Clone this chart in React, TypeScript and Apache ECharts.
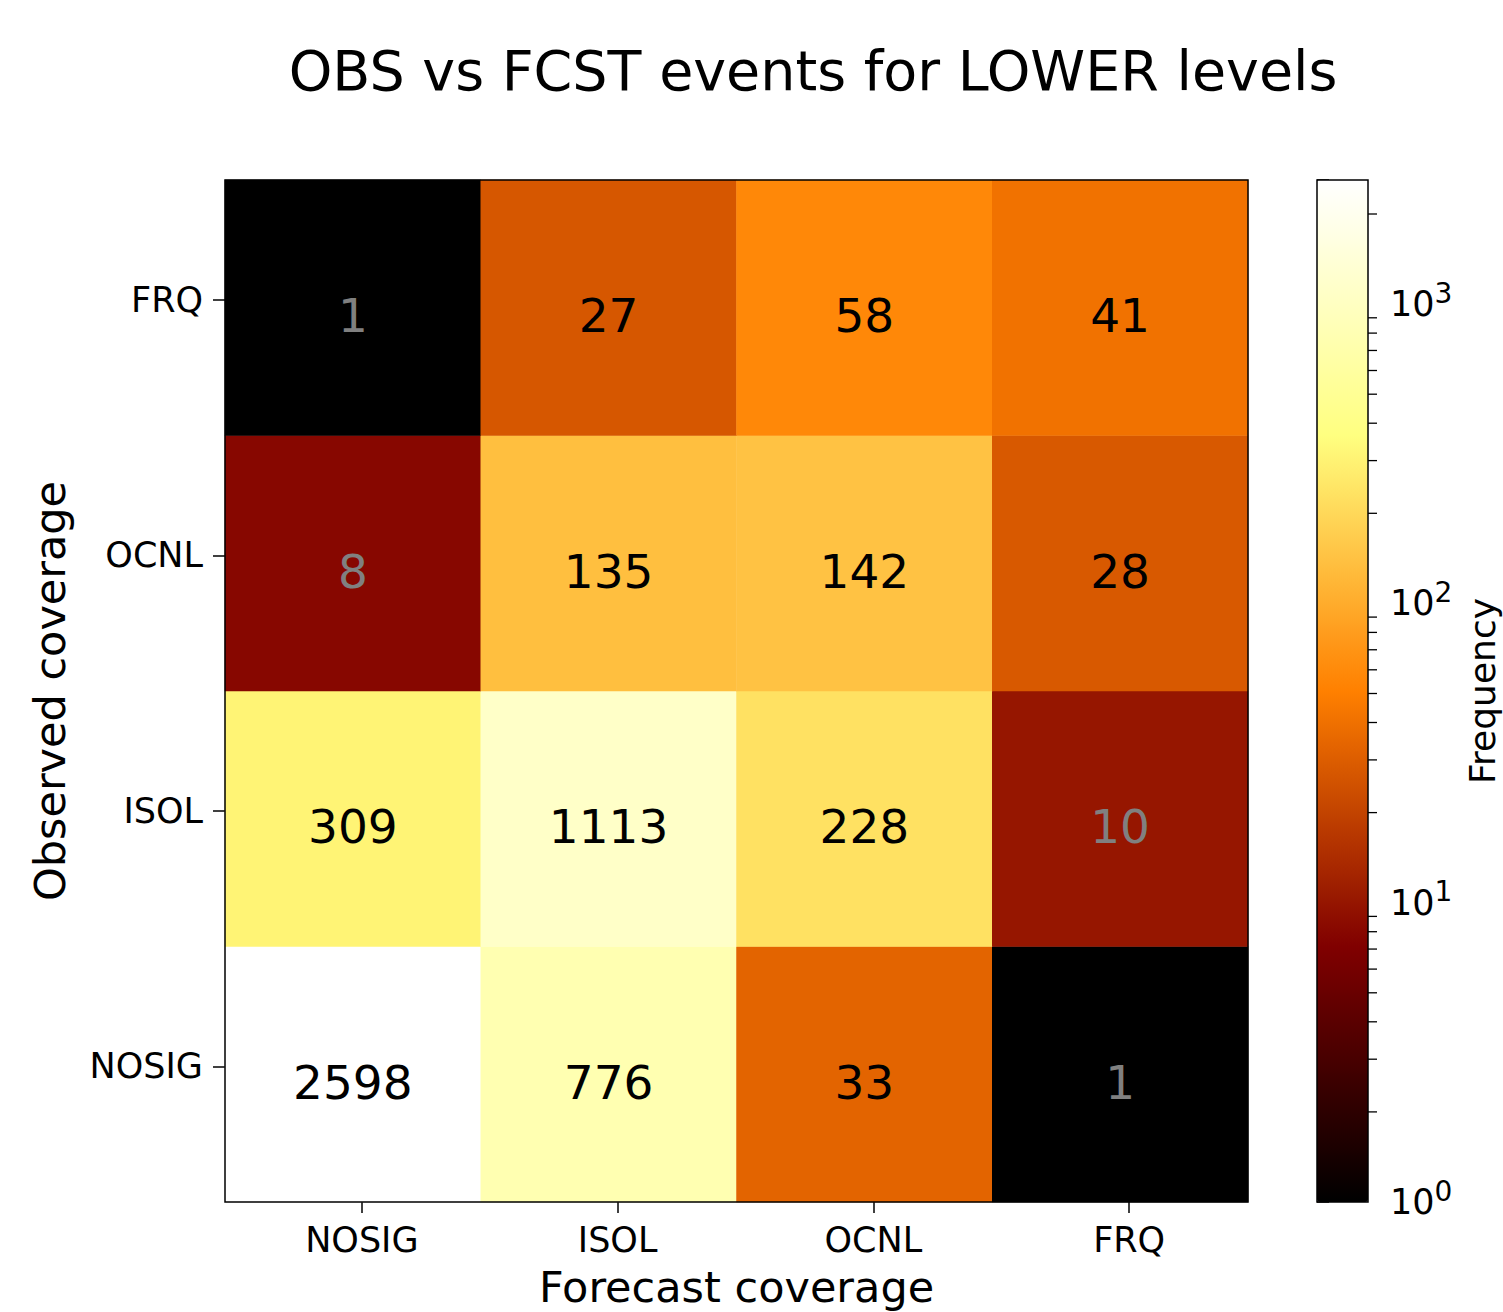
import React, { useEffect, useRef } from "react";
import * as echarts from "echarts";

// ---------- data ----------
const xCategories = ["NOSIG", "ISOL", "OCNL", "FRQ"]; // forecast coverage
const yCategories = ["NOSIG", "ISOL", "OCNL", "FRQ"]; // observed coverage (bottom -> top)

// counts per observed row, in forecast-category order
const rowNOSIG = [2598, 776, 33, 1];
const rowISOL = [309, 1113, 228, 10];
const rowOCNL = [8, 135, 142, 28];
const rowFRQ = [1, 27, 58, 41];
const rows = [rowNOSIG, rowISOL, rowOCNL, rowFRQ];

const colorMin = 1;
const colorMax = 2598;
const colorbarMajorExponents = [0, 1, 2, 3];
const colorbarMinorTicks = [
  2, 3, 4, 5, 6, 7, 8, 9,
  20, 30, 40, 50, 60, 70, 80, 90,
  200, 300, 400, 500, 600, 700, 800, 900,
  2000,
];
const afmhotStops = ["#000000", "#800000", "#ff8000", "#ffff80", "#ffffff"];
const grayThreshold = 20;

const FONT = "DejaVu Sans";

export default function App() {
  const ref = useRef<HTMLDivElement>(null);

  useEffect(() => {
    document.body.style.margin = "0";
    if (!ref.current) return;
    const chart = echarts.init(ref.current, undefined, { renderer: "svg" });

    const heatData: any[] = [];
    rows.forEach((row, yi) => {
      row.forEach((v, xi) => {
        heatData.push({
          value: [xi, yi, Math.log10(v), v],
          label: { color: v < grayThreshold ? "#808080" : "#000000" },
        });
      });
    });

    const logMin = Math.log10(colorMin);
    const logMax = Math.log10(colorMax);

    const tickLine = { lineStyle: { color: "#000", width: 1.5 } };
    const gridBase = { outerBoundsMode: "none", containLabel: false };

    const option: any = {
      animation: false,
      backgroundColor: "#ffffff",
      textStyle: { fontFamily: FONT },
      graphic: [
        {
          type: "text",
          x: 813,
          y: 70,
          style: {
            text: "OBS vs FCST events for LOWER levels",
            fontFamily: FONT,
            fontSize: 55.5,
            fill: "#000",
            textAlign: "center",
            textVerticalAlign: "middle",
          },
        },
      ],
      grid: [
        // main heatmap grid (with frame)
        {
          ...gridBase,
          left: 225, top: 180, width: 1023, height: 1022,
          show: true, borderColor: "#000", borderWidth: 1.5,
          backgroundColor: "transparent", z: 10,
        },
        // x tick grid
        { ...gridBase, left: 234, top: 180, width: 1023, height: 1022 },
        // y tick grid
        { ...gridBase, left: 225, top: 172, width: 1023, height: 1022 },
        // colorbar grid
        {
          ...gridBase,
          left: 1317, top: 180, width: 51, height: 1022,
          show: true, borderColor: "#000", borderWidth: 1.5,
          backgroundColor: "transparent", z: 10,
        },
      ],
      xAxis: [
        {
          gridIndex: 0, type: "category", data: xCategories, position: "bottom",
          axisLine: { show: false }, axisTick: { show: false }, axisLabel: { show: false },
          splitLine: { show: false },
          name: "Forecast coverage", nameLocation: "middle", nameGap: 63,
          nameTextStyle: { fontFamily: FONT, fontSize: 43, color: "#000" },
        },
        {
          gridIndex: 1, type: "category", data: xCategories, position: "bottom",
          axisLine: { show: false },
          axisTick: { show: true, alignWithLabel: true, length: 11, ...tickLine },
          axisLabel: { fontFamily: FONT, fontSize: 35, color: "#000", margin: 20 },
          splitLine: { show: false },
        },
        { gridIndex: 2, type: "category", data: xCategories, show: false },
        { gridIndex: 3, type: "value", min: 0, max: 1, show: false },
      ],
      yAxis: [
        {
          gridIndex: 0, type: "category", data: yCategories, position: "left",
          axisLine: { show: false }, axisTick: { show: false }, axisLabel: { show: false },
          splitLine: { show: false },
          name: "Observed coverage", nameLocation: "middle", nameGap: 154,
          nameTextStyle: { fontFamily: FONT, fontSize: 43, color: "#000" },
        },
        { gridIndex: 1, type: "category", data: yCategories, show: false },
        {
          gridIndex: 2, type: "category", data: yCategories, position: "left",
          axisLine: { show: false },
          axisTick: { show: true, alignWithLabel: true, length: 12, ...tickLine },
          axisLabel: { fontFamily: FONT, fontSize: 35, color: "#000", margin: 22 },
          splitLine: { show: false },
        },
        {
          gridIndex: 3, type: "value", min: logMin, max: logMax, interval: 1,
          position: "right",
          axisLine: { show: false },
          axisTick: { show: true, length: 12, ...tickLine },
          splitLine: { show: false },
          axisLabel: {
            margin: 22,
            formatter: (v: number) =>
              colorbarMajorExponents.includes(v) ? `{b|10}{s|${v}}` : "",
            rich: {
              b: { fontFamily: FONT, fontSize: 35, color: "#000" },
              s: { fontFamily: FONT, fontSize: 28, color: "#000", padding: [0, 0, 22, 0] },
            },
          },
          name: "Frequency", nameLocation: "middle", nameGap: 96,
          nameTextStyle: { fontFamily: FONT, fontSize: 36, color: "#000" },
        },
      ],
      visualMap: {
        type: "continuous",
        seriesIndex: 0,
        dimension: 2,
        min: logMin,
        max: logMax,
        inRange: { color: afmhotStops },
        orient: "vertical",
        left: 1317,
        top: 180,
        itemWidth: 51,
        itemHeight: 1022,
        padding: 0,
        calculable: false,
        text: null,
        showLabel: false,
        hoverLink: false,
      },
      series: [
        {
          type: "heatmap",
          xAxisIndex: 0,
          yAxisIndex: 0,
          data: heatData,
          label: {
            show: true,
            fontFamily: FONT,
            fontSize: 47,
            offset: [0, 8],
            formatter: (p: any) => String(p.value[3]),
          },
          itemStyle: { borderWidth: 0 },
          emphasis: { disabled: true },
        },
        {
          type: "custom",
          xAxisIndex: 3,
          yAxisIndex: 3,
          clip: false,
          silent: true,
          data: colorbarMinorTicks.map((t) => [1, Math.log10(t)]),
          renderItem: (params: any, api: any) => {
            const p = api.coord([api.value(0), api.value(1)]);
            return {
              type: "line",
              shape: { x1: p[0], y1: p[1], x2: p[0] + 9, y2: p[1] },
              style: { stroke: "#000", lineWidth: 1.3 },
            };
          },
          z: 12,
        },
      ],
    };

    chart.setOption(option);
    return () => chart.dispose();
  }, []);

  return <div ref={ref} style={{ width: 1503, height: 1312 }} />;
}
